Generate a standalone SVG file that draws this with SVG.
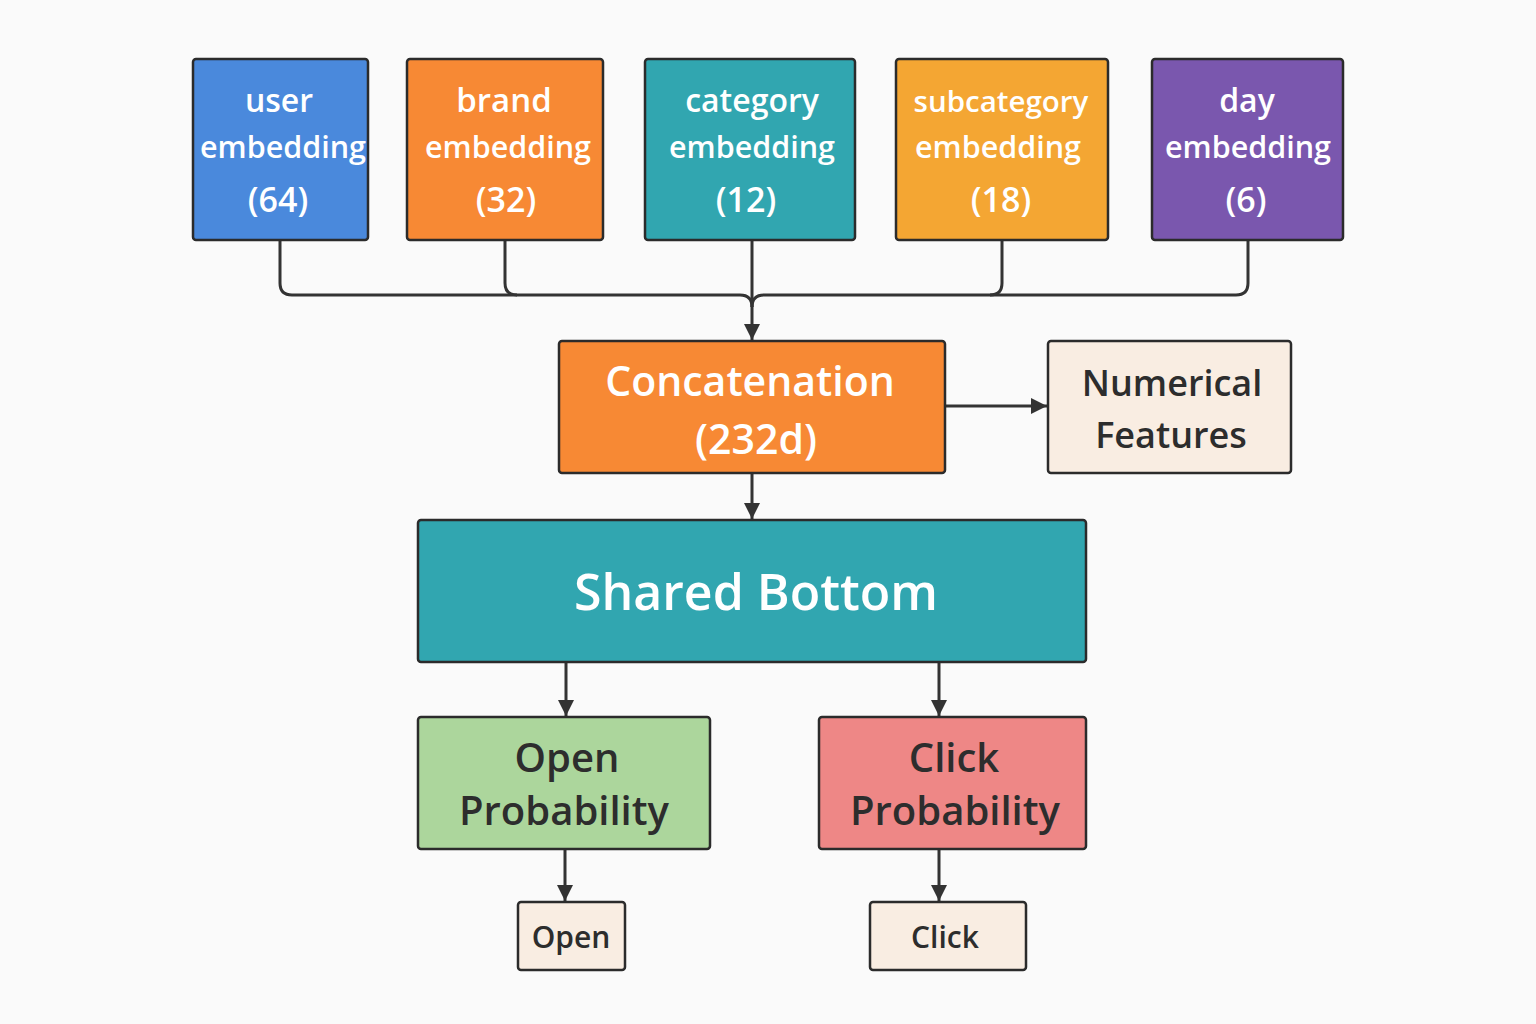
<svg xmlns="http://www.w3.org/2000/svg" width="1536" height="1024" viewBox="0 0 1536 1024">
<defs>
<marker id="arr" viewBox="0 0 10 10" refX="10" refY="5" markerWidth="5.5" markerHeight="5.5" orient="auto" markerUnits="strokeWidth">
<path d="M0,0 L10,5 L0,10 z" fill="#333"/>
</marker>
<style>
.box{stroke:#2b2b2b;stroke-width:2.5}
.w{fill:#fff;font-family:"Open Sans","Noto Sans",sans-serif;font-weight:600;text-anchor:middle}
.d{fill:#2d2d2d;font-family:"Open Sans","Noto Sans",sans-serif;font-weight:600;text-anchor:middle}
.c{fill:none;stroke:#333;stroke-width:3}
</style>
</defs>
<rect width="1536" height="1024" fill="#fafafa"/>
<g id="connectors">
<path class="c" d="M280,241 V283 Q280,295 292,295 H740 Q752,295 752,307"/>
<path class="c" d="M505,241 V283 Q505,295 517,295"/>
<path class="c" d="M1248,241 V283 Q1248,295 1236,295 H764 Q752,295 752,307"/>
<path class="c" d="M1002,241 V283 Q1002,295 990,295"/>
<path class="c" d="M752,241 V340" marker-end="url(#arr)"/>
<path class="c" d="M945,406 H1047" marker-end="url(#arr)"/>
<path class="c" d="M752,474 V519" marker-end="url(#arr)"/>
<path class="c" d="M566,663 V716" marker-end="url(#arr)"/>
<path class="c" d="M939,663 V716" marker-end="url(#arr)"/>
<path class="c" d="M565,850 V901" marker-end="url(#arr)"/>
<path class="c" d="M939,850 V901" marker-end="url(#arr)"/>
</g>
<g id="user">
<rect class="box" x="193" y="59" width="175" height="181" rx="3" fill="#4a89dc"/>
<text class="w" x="279" y="112" font-size="32">user</text>
<text class="w" x="283" y="158" font-size="30.5">embedding</text>
<text class="w" x="278" y="212" font-size="34">(64)</text>
</g>
<g id="brand">
<rect class="box" x="407" y="59" width="196" height="181" rx="3" fill="#f78934"/>
<text class="w" x="504" y="112" font-size="33">brand</text>
<text class="w" x="508" y="158" font-size="30.5">embedding</text>
<text class="w" x="506" y="212" font-size="34">(32)</text>
</g>
<g id="category">
<rect class="box" x="645" y="59" width="210" height="181" rx="3" fill="#31a6b0"/>
<text class="w" x="752" y="112" font-size="32">category</text>
<text class="w" x="752" y="158" font-size="30.5">embedding</text>
<text class="w" x="746" y="212" font-size="34">(12)</text>
</g>
<g id="subcategory">
<rect class="box" x="896" y="59" width="212" height="181" rx="3" fill="#f4a633"/>
<text class="w" x="1001" y="112" font-size="29.5">subcategory</text>
<text class="w" x="998" y="158" font-size="30.5">embedding</text>
<text class="w" x="1001" y="212" font-size="34">(18)</text>
</g>
<g id="day">
<rect class="box" x="1152" y="59" width="191" height="181" rx="3" fill="#7a57ae"/>
<text class="w" x="1247" y="112" font-size="32">day</text>
<text class="w" x="1248" y="158" font-size="30.5">embedding</text>
<text class="w" x="1246" y="212" font-size="34">(6)</text>
</g>
<g id="concatenation">
<rect class="box" x="559" y="341" width="386" height="132" rx="3" fill="#f78934"/>
<text class="w" x="750" y="396" font-size="41">Concatenation</text>
<text class="w" x="756" y="454" font-size="41">(232d)</text>
</g>
<g id="numerical">
<rect class="box" x="1048" y="341" width="243" height="132" rx="3" fill="#f9ede2"/>
<text class="d" x="1172" y="396" font-size="36">Numerical</text>
<text class="d" x="1171" y="448" font-size="36">Features</text>
</g>
<g id="shared">
<rect class="box" x="418" y="520" width="668" height="142" rx="3" fill="#31a6b0"/>
<text class="w" x="756" y="610" font-size="50">Shared Bottom</text>
</g>
<g id="openprob">
<rect class="box" x="418" y="717" width="292" height="132" rx="3" fill="#acd69c"/>
<text class="d" x="567" y="772" font-size="40">Open</text>
<text class="d" x="564" y="825" font-size="40">Probability</text>
</g>
<g id="clickprob">
<rect class="box" x="819" y="717" width="267" height="132" rx="3" fill="#ee8786"/>
<text class="d" x="954" y="772" font-size="40">Click</text>
<text class="d" x="955" y="825" font-size="40">Probability</text>
</g>
<g id="open">
<rect class="box" x="518" y="902" width="107" height="68" rx="3" fill="#f9ede2"/>
<text class="d" x="571" y="948" font-size="30">Open</text>
</g>
<g id="click">
<rect class="box" x="870" y="902" width="156" height="68" rx="3" fill="#f9ede2"/>
<text class="d" x="945" y="948" font-size="30">Click</text>
</g>
</svg>
